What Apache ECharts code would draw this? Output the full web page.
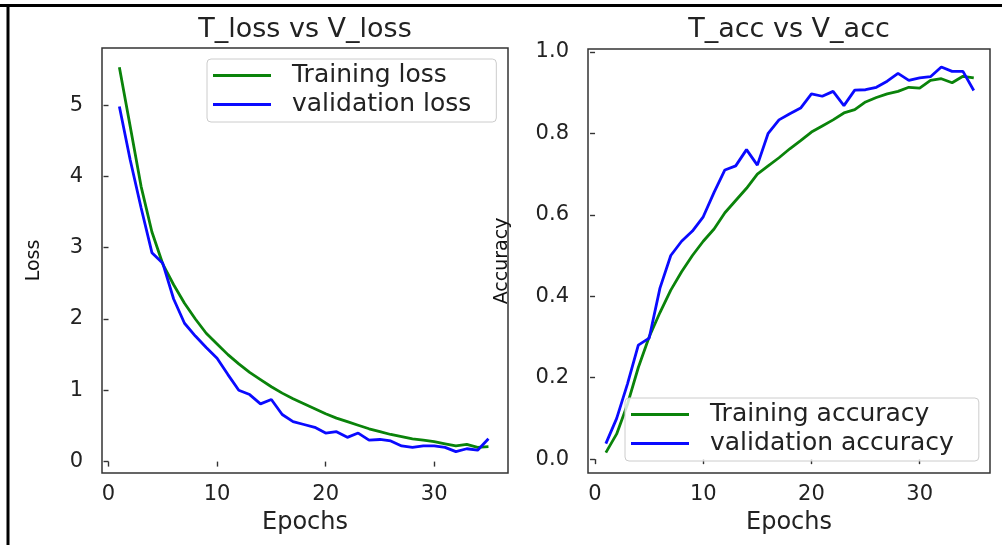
<!DOCTYPE html>
<html>
<head>
<meta charset="utf-8">
<script src="https://cdn.jsdelivr.net/npm/echarts@6/dist/echarts.min.js"></script>
<style>
html,body{margin:0;padding:0;background:#fff;}
#c{width:1002px;height:545px;}
</style>
</head>
<body>
<div id="c"></div>
<script>
const epochs = [1,2,3,4,5,6,7,8,9,10,11,12,13,14,15,16,17,18,19,20,21,22,23,24,25,26,27,28,29,30,31,32,33,34,35];
const trainLoss = [5.53,4.70,3.86,3.22,2.77,2.48,2.22,2.00,1.80,1.65,1.50,1.37,1.25,1.15,1.05,0.96,0.88,0.81,0.74,0.67,0.61,0.56,0.51,0.46,0.42,0.38,0.35,0.32,0.30,0.28,0.25,0.22,0.24,0.20,0.21];
const valLoss = [4.98,4.23,3.56,2.93,2.78,2.28,1.94,1.76,1.60,1.45,1.22,1.00,0.94,0.81,0.87,0.66,0.56,0.52,0.48,0.40,0.42,0.34,0.40,0.30,0.31,0.29,0.22,0.20,0.22,0.22,0.20,0.14,0.18,0.16,0.32];
const trainAcc = [0.016,0.062,0.135,0.225,0.300,0.360,0.415,0.460,0.500,0.535,0.565,0.605,0.635,0.665,0.700,0.720,0.740,0.762,0.782,0.803,0.818,0.833,0.850,0.858,0.877,0.888,0.897,0.903,0.913,0.911,0.930,0.934,0.924,0.940,0.936];
const valAcc = [0.038,0.100,0.185,0.280,0.297,0.420,0.500,0.535,0.560,0.595,0.655,0.710,0.720,0.760,0.722,0.800,0.833,0.848,0.862,0.897,0.891,0.903,0.868,0.906,0.907,0.913,0.928,0.947,0.930,0.936,0.939,0.963,0.952,0.952,0.905];
const epochTicks = [0,10,20,30];
const lossTicks = [0,1,2,3,4,5];
const accTicks = [0,0.2,0.4,0.6,0.8,1.0];
const titles = ['T_loss vs V_loss','T_acc vs V_acc'];
const seriesNames = ['Training loss','validation loss','Training accuracy','validation accuracy'];
const xName = 'Epochs';
const yNames = ['Loss','Accuracy'];

const FONT = 'DejaVu Sans';
const GREEN = '#0a830a';
const BLUE = '#0a0aff';
const SPINE = '#333333';

function pairs(ys){ return epochs.map((e,i)=>[e, ys[i]]); }

function xAxis(gi, min, max){
  return {
    gridIndex: gi, type:'value', min:min, max:max,
    splitLine:{show:false},
    axisLine:{show:false},
    axisTick:{show:true, length:5, customValues: epochTicks, lineStyle:{color:SPINE,width:1.4}},
    axisLabel:{customValues: epochTicks, fontSize:21, fontFamily:FONT, color:'#222', margin:11},
    name:xName, nameLocation:'middle', nameGap:38,
    nameTextStyle:{fontSize:24, fontFamily:FONT, color:'#222'}
  };
}
function yAxis(gi, min, max, ticks, fmt, name, gap){
  return {
    gridIndex: gi, type:'value', min:min, max:max,
    splitLine:{show:false},
    axisLine:{show:false},
    axisTick:{show:true, length:5, customValues: ticks, lineStyle:{color:SPINE,width:1.4}},
    axisLabel:{customValues: ticks, fontSize:21, fontFamily:FONT, color:'#222', margin:19, formatter: fmt},
    name:name, nameLocation:'middle', nameGap:gap, nameRotate:90,
    nameTextStyle:{fontSize:19, fontFamily:FONT, color:'#111'}
  };
}
function lineSeries(name, gi, data, color){
  return {
    name:name, type:'line', xAxisIndex:gi, yAxisIndex:gi,
    data: data, showSymbol:false, symbol:'none', smooth:false,
    lineStyle:{color:color, width:2.8}, itemStyle:{color:color},
    animation:false
  };
}
function legend(names, left, top){
  return {
    data:names, left:left, top:top, orient:'vertical',
    icon:'rect', itemWidth:58, itemHeight:3, itemGap:4,
    selectedMode:false,
    padding:[4,25,5,6],
    backgroundColor:'rgba(255,255,255,0.8)',
    borderColor:'#cccccc', borderWidth:1, borderRadius:4,
    textStyle:{fontSize:25, fontFamily:FONT, color:'#222', padding:[0,0,0,16]}
  };
}

const chart = echarts.init(document.getElementById('c'), null, {renderer:'canvas'});
chart.setOption({
  animation:false,
  backgroundColor:'#ffffff',
  grid:[
    {left:102, top:48, width:406, height:425, show:true, borderColor:SPINE, borderWidth:1.5, containLabel:false},
    {left:588, top:49, width:402, height:424, show:true, borderColor:SPINE, borderWidth:1.5, containLabel:false}
  ],
  xAxis:[ xAxis(0, -0.6, 36.8), xAxis(1, -0.65, 36.5) ],
  yAxis:[
    yAxis(0, -0.16, 5.8, lossTicks, v=>String(v), yNames[0], 58),
    yAxis(1, -0.034, 1.007, accTicks, v=>Number(v).toFixed(1), yNames[1], 76)
  ],
  legend:[ legend([seriesNames[0],seriesNames[1]], 207, 59), legend([seriesNames[2],seriesNames[3]], 625, 398) ],
  series:[
    lineSeries(seriesNames[0], 0, pairs(trainLoss), GREEN),
    lineSeries(seriesNames[1], 0, pairs(valLoss), BLUE),
    lineSeries(seriesNames[2], 1, pairs(trainAcc), GREEN),
    lineSeries(seriesNames[3], 1, pairs(valAcc), BLUE)
  ],
  graphic:[
    {type:'line', shape:{x1:0,y1:5.5,x2:1002,y2:5.5}, style:{stroke:'#000',lineWidth:3}, silent:true},
    {type:'line', shape:{x1:8,y1:4,x2:8,y2:545}, style:{stroke:'#000',lineWidth:3}, silent:true},
    {type:'text', x:305, y:30, style:{text:titles[0], font:'27px "DejaVu Sans"', fill:'#222', textAlign:'center', textVerticalAlign:'middle'}, silent:true},
    {type:'text', x:789, y:30, style:{text:titles[1], font:'27px "DejaVu Sans"', fill:'#222', textAlign:'center', textVerticalAlign:'middle'}, silent:true}
  ]
});
</script>
</body>
</html>
